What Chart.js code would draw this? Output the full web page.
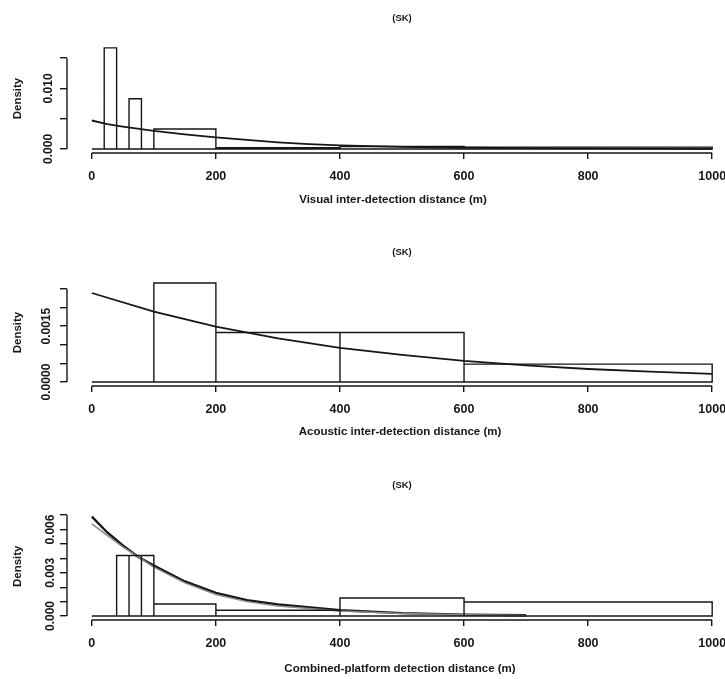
<!DOCTYPE html>
<html>
<head>
<meta charset="utf-8">
<script src="https://cdn.jsdelivr.net/npm/chart.js@4.4.0/dist/chart.umd.min.js"></script>
<style>
  html, body { margin: 0; padding: 0; background: #fff; overflow: hidden; }
  body { width: 725px; height: 679px; position: relative; }
  canvas { position: absolute; left: 0; }
</style>
</head>
<body>
<canvas id="visualChart" width="770" height="230" style="top:0px"></canvas>
<canvas id="acousticChart" width="770" height="232" style="top:230px"></canvas>
<canvas id="combinedChart" width="770" height="217" style="top:462px"></canvas>
<script>
// Histogram bin edges (m), shared by the three panels
const binEdges = [0, 20, 40, 60, 80, 100, 200, 400, 600, 1000];

// Bin densities
const visualDensity   = [0, 0.0167, 0, 0.0083, 0, 0.0033, 0.0002, 0.0004, 0.0003];
const acousticDensity = [0, 0, 0, 0, 0, 0.00266, 0.00133, 0.00133, 0.00048];
const combinedDensity = [0, 0, 0.0042, 0.0042, 0.0042, 0.00083, 0.0004, 0.00125, 0.00097];

// Fitted detection curves
const visualCurveX = [0, 25, 50, 100, 150, 200, 250, 300, 350, 400, 450, 500, 600, 700, 800, 900, 1000];
const visualCurveY = [0.0047, 0.0041, 0.0037, 0.0030, 0.0024, 0.0019, 0.0015, 0.0011, 0.0008, 0.0006, 0.00045, 0.00035, 0.0002, 0.00012, 0.00008, 0.00005, 0.00003];

const acousticCurveX = [0, 100, 200, 300, 400, 500, 600, 700, 800, 900, 1000];
const acousticCurveY = [0.00239, 0.00189, 0.00149, 0.00117, 0.00092, 0.00073, 0.00057, 0.00045, 0.00035, 0.00028, 0.00022];

const combinedCurveX = [0, 25, 50, 75, 100, 150, 200, 250, 300, 400, 500, 600, 700];
const combinedCurveY = [0.0069, 0.0058, 0.0049, 0.0041, 0.0035, 0.0024, 0.0016, 0.0011, 0.0008, 0.0004, 0.0002, 0.0001, 0.00005];
const combinedCurve2Y = [0.0064, 0.0056, 0.0048, 0.0041, 0.0034, 0.0023, 0.0015, 0.0010, 0.0007, 0.00035, 0.00017, 0.00008, 0.00004];

// Tick positions and labels
const xTicks = [0, 200, 400, 600, 800, 1000];
const visualYTicks = [0, 0.005, 0.010, 0.015];
const visualYLabels = ['0.000', '', '0.010', ''];
const acousticYTicks = [0, 0.0005, 0.0010, 0.0015, 0.0020, 0.0025];
const acousticYLabels = ['0.0000', '', '', '0.0015', '', ''];
const combinedYTicks = [0, 0.001, 0.002, 0.003, 0.004, 0.005, 0.006, 0.007];
const combinedYLabels = ['0.000', '', '', '0.003', '', '', '0.006', ''];

const ink = '#161616';
const fontFamily = "'Liberation Sans', Arial, sans-serif";

Chart.defaults.font.family = fontFamily;
Chart.defaults.color = ink;

// histogram outline: each bin as a rectangle standing on the baseline
function histPoints(edges, dens) {
    const pts = [{ x: edges[0], y: 0 }];
    for (let i = 0; i < dens.length; i++) {
        pts.push({ x: edges[i], y: dens[i] });
        pts.push({ x: edges[i + 1], y: dens[i] });
        pts.push({ x: edges[i + 1], y: 0 });
    }
    pts.push({ x: edges[0], y: 0 });
    return pts;
}

// R-style axes: axis line only between first and last tick, plus the x label
const rAxes = {
    id: 'rAxes',
    afterDraw(chart, args, opts) {
        const { ctx, chartArea, scales: { x, y } } = chart;
        ctx.save();
        ctx.strokeStyle = ink;
        ctx.lineWidth = 1.4;
        ctx.beginPath();
        ctx.moveTo(x.getPixelForValue(x.ticks[0].value), chartArea.bottom);
        ctx.lineTo(x.getPixelForValue(x.ticks[x.ticks.length - 1].value), chartArea.bottom);
        ctx.moveTo(chartArea.left, y.getPixelForValue(y.ticks[0].value));
        ctx.lineTo(chartArea.left, y.getPixelForValue(y.ticks[y.ticks.length - 1].value));
        ctx.stroke();
        ctx.fillStyle = ink;
        ctx.font = 'bold 11.5px ' + fontFamily;
        ctx.textAlign = 'center';
        ctx.textBaseline = 'middle';
        ctx.fillText(opts.xLabel, opts.xLabelX, opts.xLabelY);
        ctx.restore();
    }
};

function makePanel(id, p) {
    const H = document.getElementById(id).height;
    const datasets = [
        {
            data: histPoints(binEdges, p.density),
            borderColor: ink,
            borderWidth: 1.4
        }
    ];
    p.curves.forEach(c => datasets.push({
        data: p.curveX.map((v, i) => ({ x: v, y: c.y[i] })),
        borderColor: c.color,
        borderWidth: c.width
    }));

    new Chart(document.getElementById(id).getContext('2d'), {
        type: 'line',
        data: { datasets },
        plugins: [rAxes],
        options: {
            responsive: false,
            animation: false,
            layout: { padding: { top: 0, bottom: 0, left: 0, right: 33 } },
            elements: { point: { radius: 0 }, line: { tension: 0, fill: false } },
            plugins: {
                legend: { display: false },
                tooltip: { enabled: false },
                title: {
                    display: true,
                    text: '(SK)',
                    fullSize: false,
                    color: ink,
                    font: { size: 9.5, weight: 'bold', lineHeight: 1 },
                    padding: { top: p.skY - 4.75, bottom: p.top - p.skY - 4.75 }
                },
                rAxes: { xLabel: p.xLabel, xLabelX: p.xLabelX, xLabelY: p.xLabelY }
            },
            scales: {
                x: {
                    type: 'linear',
                    min: -40,
                    max: 1040,
                    afterBuildTicks: s => { s.ticks = xTicks.map(v => ({ value: v })); },
                    afterFit: s => { s.height = H - p.bottom; },
                    border: { display: false },
                    grid: { drawOnChartArea: false, drawTicks: true, tickLength: 6, color: ink, lineWidth: 1.4 },
                    ticks: {
                        autoSkip: false,
                        maxRotation: 0,
                        padding: 10,
                        color: ink,
                        font: { size: 12.5, weight: 'bold' },
                        callback: v => String(v)
                    }
                },
                y: {
                    type: 'linear',
                    min: p.yMin,
                    max: p.yMax,
                    afterBuildTicks: s => { s.ticks = p.yTicks.map(v => ({ value: v })); },
                    afterFit: s => { s.width = 67; },
                    border: { display: false },
                    grid: { drawOnChartArea: false, drawTicks: true, tickLength: 7, color: ink, lineWidth: 1.4 },
                    title: {
                        display: true,
                        text: 'Density',
                        color: ink,
                        font: { size: 11.5, weight: 'bold', lineHeight: 1.2 },
                        padding: { top: 11, bottom: 0 }
                    },
                    ticks: {
                        autoSkip: false,
                        minRotation: 90,
                        maxRotation: 90,
                        crossAlign: 'center',
                        padding: p.yTickPad,
                        color: ink,
                        font: { size: 12, weight: 'bold' },
                        callback: (v, i) => p.yLabels[i]
                    }
                }
            }
        }
    });
}

makePanel('visualChart', {
    density: visualDensity,
    curveX: visualCurveX,
    curves: [{ y: visualCurveY, color: ink, width: 1.8 }],
    yTicks: visualYTicks, yLabels: visualYLabels,
    yMin: -0.00067, yMax: 0.01734,
    top: 44, bottom: 153, skY: 18.5,
    yTickPad: -4,
    xLabel: 'Visual inter-detection distance (m)', xLabelX: 393, xLabelY: 200
});

makePanel('acousticChart', {
    density: acousticDensity,
    curveX: acousticCurveX,
    curves: [{ y: acousticCurveY, color: ink, width: 1.8 }],
    yTicks: acousticYTicks, yLabels: acousticYLabels,
    yMin: -0.000106, yMax: 0.002766,
    top: 49, bottom: 156, skY: 22,
    yTickPad: -5,
    xLabel: 'Acoustic inter-detection distance (m)', xLabelX: 400, xLabelY: 202
});

makePanel('combinedChart', {
    density: combinedDensity,
    curveX: combinedCurveX,
    curves: [
        { y: combinedCurve2Y, color: '#8a8a8a', width: 1.5 },
        { y: combinedCurveY, color: ink, width: 2.4 }
    ],
    yTicks: combinedYTicks, yLabels: combinedYLabels,
    yMin: -0.000276, yMax: 0.00718,
    top: 50.6, bottom: 158, skY: 23,
    yTickPad: -6,
    xLabel: 'Combined-platform detection distance (m)', xLabelX: 400, xLabelY: 207
});
</script>
</body>
</html>
